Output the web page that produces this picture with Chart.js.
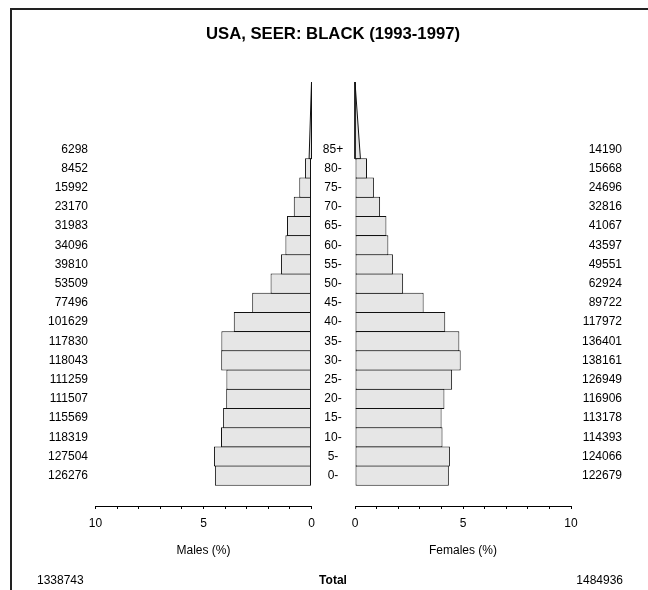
<!DOCTYPE html>
<html>
<head>
<meta charset="utf-8">
<script src="https://cdn.jsdelivr.net/npm/chart.js@4.4.0/dist/chart.umd.min.js"></script>
<style>
  body { margin: 0; background: #fff; font-family: "Liberation Sans", Arial, sans-serif; }
  #wrap { position: relative; width: 648px; height: 590px; overflow: hidden; }
  #frame { position: absolute; left: 10px; top: 8px; width: 700px; height: 700px;
           border-top: 2px solid #222; border-left: 2px solid #222; }
  canvas { position: absolute; left: 0; top: 0; }
  .txt { position: absolute; font-size: 12px; line-height: 14px; color: #000; white-space: nowrap; }
  #title { left: 0; width: 666px; top: 24px; text-align: center; font-weight: bold;
           font-size: 16.7px; line-height: 20px; }
</style>
</head>
<body>
<div id="wrap">
  <div id="frame"></div>
  <canvas id="maleChart" width="648" height="590"></canvas>
  <canvas id="femaleChart" width="648" height="590"></canvas>
  <div id="title" class="txt">USA, SEER: BLACK (1993-1997)</div>
  <div id="maleTotal" class="txt" style="left:37px; top:573px;"></div>
  <div class="txt" style="left:300px; width:66px; text-align:center; top:573px; font-weight:bold;">Total</div>
  <div id="femaleTotal" class="txt" style="right:25px; top:573px;"></div>
</div>
<script>
var ageGroups = ["0-", "5-", "10-", "15-", "20-", "25-", "30-", "35-", "40-",
                 "45-", "50-", "55-", "60-", "65-", "70-", "75-", "80-", "85+"];
var maleCounts = [126276, 127504, 118319, 115569, 111507, 111259, 118043, 117830, 101629,
                  77496, 53509, 39810, 34096, 31983, 23170, 15992, 8452, 6298];
var femaleCounts = [122679, 124066, 114393, 113178, 116906, 126949, 138161, 136401, 117972,
                    89722, 62924, 49551, 43597, 41067, 32816, 24696, 15668, 14190];
// percent of both sexes together
var malePct = [4.472, 4.516, 4.190, 4.093, 3.949, 3.940, 4.180, 4.173, 3.599,
               2.745, 1.895, 1.410, 1.208, 1.133, 0.821, 0.566, 0.299, 0.223];
var femalePct = [4.345, 4.394, 4.051, 4.008, 4.140, 4.496, 4.893, 4.831, 4.178,
                 3.177, 2.228, 1.755, 1.544, 1.454, 1.162, 0.875, 0.555, 0.503];
var maleTotal = 1338743;
var femaleTotal = 1484936;

var groupSpan = 5;      // years per age group
var openTop = 105;      // apex of the open-ended 85+ triangle
var FONT = '"Liberation Sans", Arial, sans-serif';

document.getElementById("maleTotal").textContent = String(maleTotal);
document.getElementById("femaleTotal").textContent = String(femaleTotal);

var groupLabels = {
  id: "groupLabels",
  afterDraw: function (chart, args, opts) {
    var ctx = chart.ctx;
    var y = chart.scales.y;
    ctx.save();
    ctx.font = "12px " + FONT;
    ctx.fillStyle = "#000";
    ctx.textBaseline = "middle";
    opts.counts.forEach(function (c, i) {
      var py = y.getPixelForValue(i * groupSpan + groupSpan / 2);
      ctx.textAlign = "right";
      ctx.fillText(String(c), opts.x, py);
      if (opts.ages) {
        ctx.textAlign = "center";
        ctx.fillText(ageGroups[i], 333, py);
      }
    });
    ctx.restore();
  }
};

function sideChart(canvas, pct, counts, isLeft) {
  var last = pct.length - 1;
  var bars = [];
  for (var i = 0; i < last; i++) {
    bars.push({ x: pct[i], y: i * groupSpan + groupSpan / 2 });
  }
  var base = last * groupSpan;
  var tri = [
    { x: 0, y: base },
    { x: pct[last] / 2, y: base },
    { x: 0, y: openTop },
    { x: 0, y: base }
  ];
  return new Chart(canvas, {
    type: "bar",
    data: {
      datasets: [
        {
          type: "bar",
          data: bars,
          backgroundColor: "#e6e6e6",
          borderColor: "#111",
          borderWidth: 1,
          borderSkipped: false,
          inflateAmount: 0,
          barPercentage: 1.05,
          categoryPercentage: 1,
          clip: false
        },
        {
          type: "line",
          data: tri,
          fill: "shape",
          backgroundColor: "#e6e6e6",
          borderColor: "#111",
          borderWidth: 1,
          pointRadius: 0,
          tension: 0,
          clip: false
        }
      ]
    },
    options: {
      indexAxis: "y",
      responsive: false,
      animation: false,
      events: [],
      layout: {
        padding: isLeft
          ? { left: 95.5, right: 336.5, top: 82, bottom: 32 }
          : { left: 355, right: 77, top: 82, bottom: 32 }
      },
      plugins: {
        legend: { display: false },
        tooltip: { enabled: false },
        groupLabels: { counts: counts, x: isLeft ? 88 : 622, ages: isLeft }
      },
      scales: {
        x: {
          type: "linear",
          min: 0,
          max: 10,
          reverse: isLeft,
          afterFit: function (s) { s.height = 52; },
          ticks: {
            stepSize: 1,
            autoSkip: false,
            maxRotation: 0,
            padding: 7,
            color: "#000",
            font: { size: 12, family: FONT },
            callback: function (v) { return v % 5 === 0 ? String(v) : ""; }
          },
          grid: { drawOnChartArea: false, drawTicks: true, tickLength: 3, color: "#000" },
          border: { color: "#000", width: 1 },
          title: {
            display: true,
            text: isLeft ? "Males (%)" : "Females (%)",
            color: "#000",
            font: { size: 12, family: FONT },
            padding: { top: 0, bottom: 0 }
          }
        },
        y: {
          type: "linear",
          display: false,
          offset: false,
          grid: { offset: false },
          min: -5.4,
          max: openTop,
          ticks: { stepSize: 5, includeBounds: false }
        }
      }
    },
    plugins: [groupLabels]
  });
}

sideChart(document.getElementById("maleChart"), malePct, maleCounts, true);
sideChart(document.getElementById("femaleChart"), femalePct, femaleCounts, false);
</script>
</body>
</html>
